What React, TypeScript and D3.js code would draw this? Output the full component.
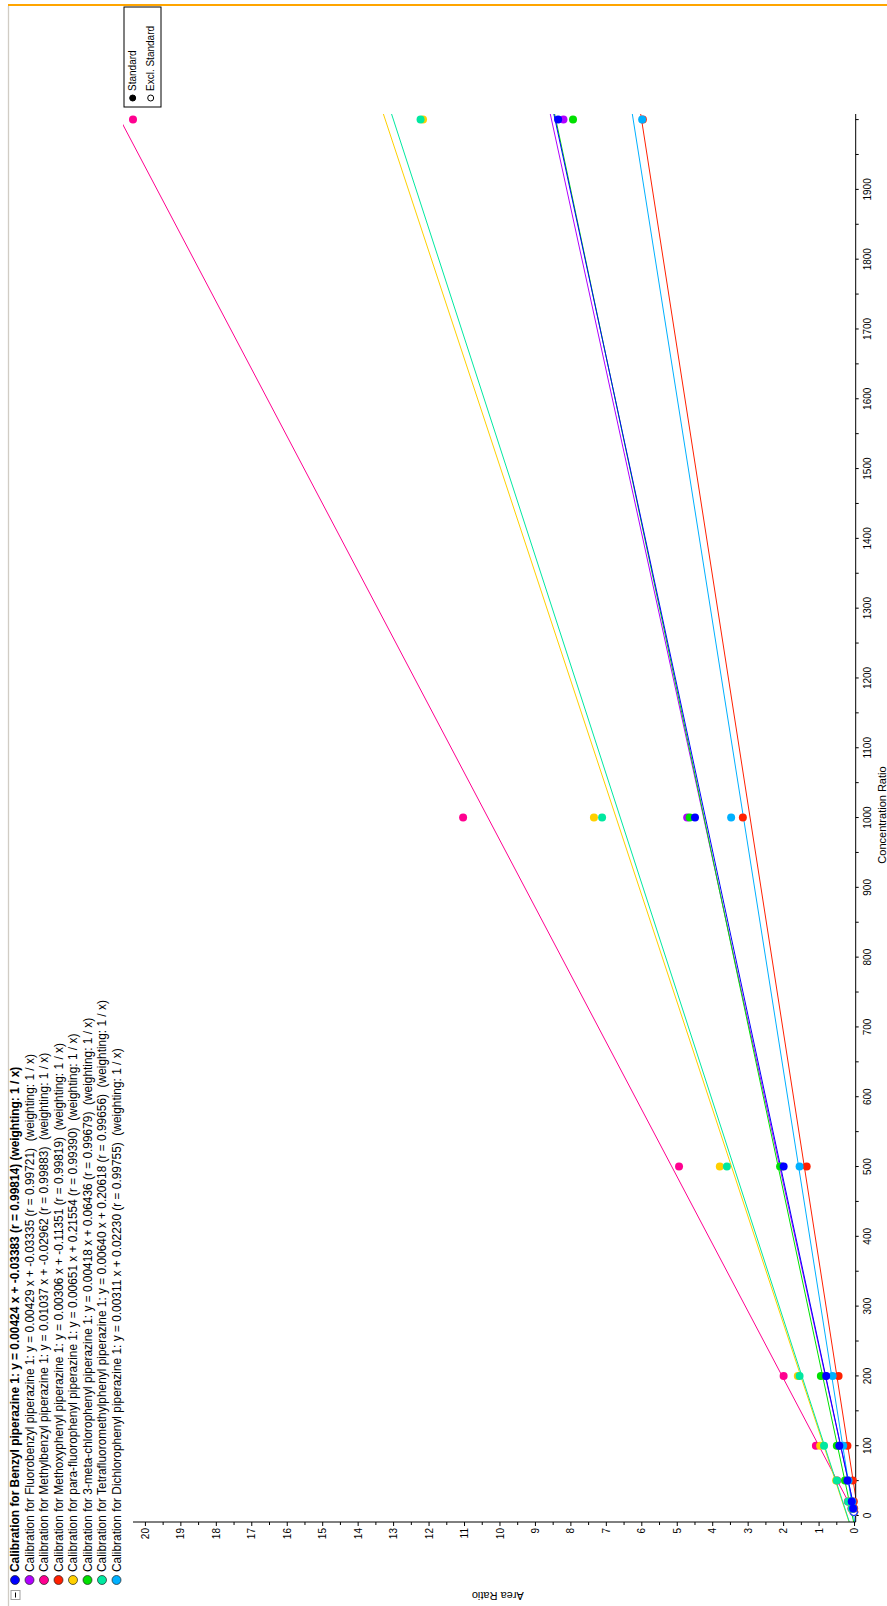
import React from 'react';
import * as d3 from 'd3';

// Calibration standards (concentration ratio)
const concentrations = [10, 20, 50, 100, 200, 500, 1000, 2000];
const excludedConcentrations = [5];

// Compound names, fit coefficients and colours
const compoundNames = [
  'Benzyl piperazine 1',
  'Fluorobenzyl piperazine 1',
  'Methylbenzyl piperazine 1',
  'Methoxyphenyl piperazine 1',
  'para-fluorophenyl piperazine 1',
  '3-meta-chlorophenyl piperazine 1',
  'Tetrafluoromethylphenyl piperazine 1',
  'Dichlorophenyl piperazine 1',
];
const slopes = [0.00424, 0.00429, 0.01037, 0.00306, 0.00651, 0.00418, 0.0064, 0.00311];
const intercepts = [-0.03383, -0.03335, -0.02962, -0.11351, 0.21554, 0.06436, 0.20618, 0.0223];
const rValues = ['0.99814', '0.99721', '0.99883', '0.99819', '0.99390', '0.99679', '0.99656', '0.99755'];
const seriesColors = ['#0000ff', '#b000ff', '#ff0090', '#ff2000', '#ffd000', '#00e000', '#00e8a0', '#00b0ff'];

// Measured area ratios at each concentration
const benzylValues = [0.04, 0.08, 0.2, 0.43, 0.8, 2.0, 4.5, 8.36];
const fluorobenzylValues = [0.04, 0.08, 0.19, 0.44, 0.82, 2.05, 4.72, 8.21];
const methylbenzylValues = [0.09, 0.19, 0.49, 1.09, 2.0, 4.95, 11.04, 20.35];
const methoxyphenylValues = [0.01, 0.02, 0.05, 0.2, 0.45, 1.35, 3.15, 5.97];
const paraFluorophenylValues = [0.08, 0.17, 0.52, 0.97, 1.6, 3.8, 7.35, 12.17];
const metaChlorophenylValues = [0.05, 0.1, 0.27, 0.5, 0.95, 2.1, 4.65, 7.94];
const tetrafluoroValues = [0.08, 0.18, 0.5, 0.86, 1.55, 3.6, 7.12, 12.24];
const dichlorophenylValues = [0.03, 0.06, 0.17, 0.32, 0.62, 1.55, 3.48, 5.99];

// Excluded standards (open markers)
const excludedValues = [[0.02], [0.02], [0.04], [0.0], [0.03], [0.02], [0.03], [0.01]];

const allValues = [
  benzylValues,
  fluorobenzylValues,
  methylbenzylValues,
  methoxyphenylValues,
  paraFluorophenylValues,
  metaChlorophenylValues,
  tetrafluoroValues,
  dichlorophenylValues,
];

const concentrationTicks = d3.range(0, 2001, 100);
const concentrationMinorTicks = d3.range(50, 2001, 100);
const areaTicks = d3.range(0, 21, 1);
const areaMinorTicks = d3.range(0.5, 20.01, 1);

const legendTitles = ['Standard', 'Excl. Standard'];

const W = 887;
const H = 1606;
const FONT = '"Liberation Sans", Arial, sans-serif';

function fmt(v: number) {
  return v.toFixed(5);
}

export default function App() {
  // Drawn in the chart's own frame (u across, v down), then turned a quarter turn
  const x = d3.scaleLinear().domain([-9.3, 2008]).range([84, 1492]);
  const y = d3.scaleLinear().domain([-0.03, 20.35]).range([855.6, 133]);
  const plotLeft = x.range()[0];
  const plotRight = x.range()[1];
  const axisY = 855.7;

  const drawOrder = [1, 2, 3, 4, 5, 6, 7, 0];

  const legendRows = compoundNames.map((name, i) => {
    const b = intercepts[i];
    const sep = i === 0 ? ' ' : '  ';
    return `Calibration for ${name}: y = ${fmt(slopes[i])} x + ${fmt(b)} (r = ${rValues[i]})${sep}(weighting: 1 / x)`;
  });

  return (
    <svg
      width={W}
      height={H}
      style={{ position: 'absolute', left: 0, top: 0, background: '#fff' }}
      fontFamily={FONT}
    >
      <rect x={0} y={0} width={W} height={H} fill="#fff" />
      <g transform={`translate(0,${H}) rotate(-90)`}>
        <defs>
          <clipPath id="plot-clip">
            <rect x={plotLeft} y={123} width={plotRight - plotLeft + 2} height={axisY - 123} />
          </clipPath>
        </defs>

        {/* window frame lines */}
        <line x1={0} x2={1600} y1={8.5} y2={8.5} stroke="#d0ccc4" strokeWidth={1.3} />
        <line x1={1601} x2={1601} y1={8} y2={W} stroke="#ffa500" strokeWidth={2} />

        {/* fitted calibration lines */}
        <g clipPath="url(#plot-clip)">
          {drawOrder.map((i) => {
            const c0 = x.domain()[0];
            const c1 = x.domain()[1];
            return (
              <line
                key={'fit' + i}
                x1={x(c0)}
                y1={y(slopes[i] * c0 + intercepts[i])}
                x2={x(c1)}
                y2={y(slopes[i] * c1 + intercepts[i])}
                stroke={seriesColors[i]}
                strokeWidth={1}
              />
            );
          })}
        </g>

        {/* axes */}
        <line x1={plotLeft} x2={plotRight} y1={axisY} y2={axisY} stroke="#000" strokeWidth={1} />
        <line x1={plotLeft} x2={plotLeft} y1={133} y2={axisY} stroke="#000" strokeWidth={1} />
        {concentrationTicks.map((c) => (
          <g key={'ct' + c}>
            <line x1={x(c)} x2={x(c)} y1={axisY} y2={axisY + 3} stroke="#000" />
            {c < 2000 && (
              <text x={x(c)} y={871} fontSize={10} textAnchor="middle" fill="#000">
                {c}
              </text>
            )}
          </g>
        ))}
        {concentrationMinorTicks.map((c) => (
          <line key={'cm' + c} x1={x(c)} x2={x(c)} y1={axisY} y2={axisY + 3} stroke="#000" />
        ))}
        {areaTicks.map((a) => (
          <g key={'at' + a}>
            <line x1={plotLeft - 4} x2={plotLeft} y1={y(a)} y2={y(a)} stroke="#000" />
            <text x={78} y={y(a) + 3.6} fontSize={10} textAnchor="end" fill="#000">
              {a}
            </text>
          </g>
        ))}
        {areaMinorTicks.map((a) => (
          <line key={'am' + a} x1={plotLeft - 3} x2={plotLeft} y1={y(a)} y2={y(a)} stroke="#000" />
        ))}
        <text x={791} y={886} fontSize={11} textAnchor="middle" fill="#000">
          Concentration Ratio
        </text>
        <text
          transform={`translate(14,${(y(0) + y(20.35)) / 2 + 4}) rotate(-90)`}
          fontSize={11}
          textAnchor="middle"
          fill="#000"
        >
          Area Ratio
        </text>

        {/* excluded standards */}
        {drawOrder.map((i) =>
          excludedConcentrations.map((c, j) => (
            <circle
              key={`ex${i}-${j}`}
              cx={x(c)}
              cy={y(excludedValues[i][j])}
              r={3.5}
              fill="#fff"
              stroke={seriesColors[i]}
              strokeWidth={1}
            />
          ))
        )}

        {/* standards */}
        {drawOrder.map((i) =>
          concentrations.map((c, j) => (
            <circle
              key={`pt${i}-${j}`}
              cx={x(c)}
              cy={y(allValues[i][j])}
              r={4}
              fill={seriesColors[i]}
            />
          ))
        )}

        {/* equation legend */}
        <rect x={6.5} y={11} width={9} height={9} fill="#fff" stroke="#a0a0a0" />
        <line x1={8.5} x2={13.5} y1={15.5} y2={15.5} stroke="#000" />
        {legendRows.map((txt, i) => {
          const cy = 15 + i * 14.5;
          return (
            <g key={'lg' + i}>
              <circle cx={26} cy={cy} r={4.5} fill={seriesColors[i]} stroke="#222" strokeWidth={0.7} />
              <text
                x={34}
                y={cy + 4.3}
                fontSize={11.9}
                fontWeight={i === 0 ? 'bold' : 'normal'}
                fill="#000"
                style={{ whiteSpace: 'pre' }}
              >
                {txt}
              </text>
            </g>
          );
        })}

        {/* marker legend */}
        <rect x={1499} y={124} width={100} height={37} fill="#fff" stroke="#000" strokeWidth={1} />
        {legendTitles.map((t, i) => {
          const cy = 132.7 + i * 18;
          return (
            <g key={'ml' + i}>
              <circle
                cx={1508}
                cy={cy}
                r={3}
                fill={i === 0 ? '#000' : '#fff'}
                stroke="#000"
                strokeWidth={1}
              />
              <text x={1515} y={cy + 3.6} fontSize={10} fill="#000">
                {t}
              </text>
            </g>
          );
        })}
      </g>
    </svg>
  );
}
